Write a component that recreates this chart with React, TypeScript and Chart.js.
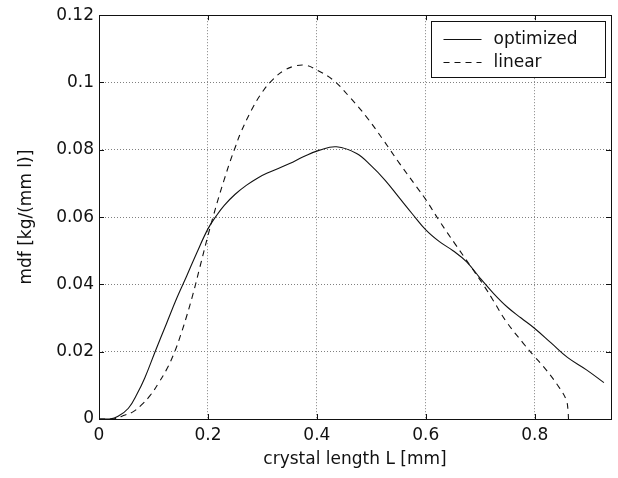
import React, { useEffect, useRef } from "react";
import { Chart, registerables } from "chart.js";

Chart.register(...registerables);

const optX = [0, 0.02, 0.035, 0.054, 0.07, 0.084, 0.103, 0.124, 0.1425, 0.161, 0.179, 0.2, 0.215, 0.23, 0.25, 0.271, 0.29, 0.308, 0.35, 0.375, 0.405, 0.436, 0.473, 0.5, 0.525, 0.55, 0.575, 0.6, 0.625, 0.65, 0.675, 0.7, 0.725, 0.75, 0.775, 0.8, 0.83, 0.86, 0.895, 0.927];
const optY = [0, 0, 0.0008, 0.0032, 0.0075, 0.0122, 0.02, 0.0284, 0.0358, 0.0425, 0.0492, 0.0565, 0.0603, 0.0635, 0.0668, 0.0695, 0.0715, 0.073, 0.0759, 0.0779, 0.0799, 0.0809, 0.0789, 0.0752, 0.071, 0.066, 0.061, 0.0562, 0.0527, 0.05, 0.0467, 0.0418, 0.0372, 0.0332, 0.03, 0.0269, 0.0226, 0.0183, 0.0146, 0.0108];

const linX = [0, 0.025, 0.048, 0.063, 0.078, 0.094, 0.109, 0.125, 0.139, 0.15, 0.161, 0.173, 0.185, 0.2, 0.21, 0.22, 0.23, 0.24, 0.25, 0.26, 0.28, 0.3, 0.32, 0.34, 0.36, 0.38, 0.4, 0.43, 0.46, 0.491, 0.522, 0.552, 0.583, 0.6, 0.626, 0.653, 0.681, 0.708, 0.7235, 0.748, 0.779, 0.8, 0.821, 0.846, 0.858, 0.861, 0.862];
const linY = [0, 0, 0.0012, 0.0022, 0.0042, 0.007, 0.0106, 0.015, 0.02, 0.025, 0.0306, 0.0374, 0.045, 0.0545, 0.0604, 0.066, 0.0712, 0.0762, 0.0807, 0.085, 0.0918, 0.0972, 0.101, 0.1036, 0.1049, 0.1051, 0.1037, 0.1007, 0.0957, 0.0898, 0.0829, 0.0759, 0.069, 0.0652, 0.0586, 0.0522, 0.0457, 0.0393, 0.0353, 0.0289, 0.0225, 0.0185, 0.0146, 0.0091, 0.0056, 0.0027, 0];

const seriesNames = ["optimized", "linear"];
const xTitle = "crystal length L [mm]";
const yTitle = "mdf [kg/(mm l)]";

const FONT = "'DejaVu Sans', Verdana, sans-serif";
const FSIZE = 17;

const toPts = (xs: number[], ys: number[]) => xs.map((x, i) => ({ x, y: ys[i] }));

const fmt = (v: number | string) => String(+Number(v).toFixed(4));

const boxPlugin = {
  id: "matlabBox",
  afterDraw(chart: any) {
    const { ctx, chartArea, scales } = chart;
    const { left, right, top, bottom } = chartArea;
    ctx.save();
    ctx.strokeStyle = "#111";
    ctx.lineWidth = 1;
    ctx.setLineDash([]);
    const tl = 5;
    ctx.beginPath();
    scales.x.ticks.forEach((t: any) => {
      const px = Math.round(scales.x.getPixelForValue(t.value)) + 0.5;
      ctx.moveTo(px, bottom);
      ctx.lineTo(px, bottom - tl);
      ctx.moveTo(px, top);
      ctx.lineTo(px, top + tl);
    });
    scales.y.ticks.forEach((t: any) => {
      const py = Math.round(scales.y.getPixelForValue(t.value)) + 0.5;
      ctx.moveTo(left, py);
      ctx.lineTo(left + tl, py);
      ctx.moveTo(right, py);
      ctx.lineTo(right - tl, py);
    });
    ctx.stroke();
    ctx.strokeRect(Math.round(left) + 0.5, Math.round(top) + 0.5, Math.round(right - left), Math.round(bottom - top));

    // legend
    const lx = Math.round(right) - 179.5;
    const ly = Math.round(top) + 6.5;
    const lw = 174;
    const lh = 56;
    ctx.fillStyle = "#fff";
    ctx.fillRect(lx, ly, lw, lh);
    ctx.strokeRect(lx, ly, lw, lh);
    const rows = [ly + 18, ly + 41];
    const dashes = [[], [6, 5]];
    ctx.font = `${FSIZE}px ${FONT}`;
    ctx.textBaseline = "middle";
    ctx.textAlign = "left";
    ctx.lineWidth = 1.1;
    rows.forEach((ry, i) => {
      ctx.beginPath();
      ctx.setLineDash(dashes[i]);
      ctx.moveTo(lx + 12, ry);
      ctx.lineTo(lx + 50, ry);
      ctx.stroke();
      ctx.setLineDash([]);
      ctx.fillStyle = "#111";
      ctx.fillText(seriesNames[i], lx + 62, ry);
    });
    ctx.restore();
  },
};

export default function App() {
  const ref = useRef<HTMLCanvasElement | null>(null);
  useEffect(() => {
    if (!ref.current) return;
    const chart = new Chart(ref.current, {
      type: "line",
      data: {
        datasets: [
          {
            label: seriesNames[0],
            data: toPts(optX, optY),
            borderColor: "#111",
            borderWidth: 1.1,
            pointRadius: 0,
            fill: false,
            tension: 0.4,
          },
          {
            label: seriesNames[1],
            data: toPts(linX, linY),
            borderColor: "#111",
            borderWidth: 1.1,
            borderDash: [6, 5],
            pointRadius: 0,
            fill: false,
            tension: 0.4,
          },
        ],
      },
      options: {
        animation: false,
        responsive: false,
        devicePixelRatio: 1,
        layout: { padding: { left: 0, right: 7, top: 15, bottom: 0 } },
        plugins: { legend: { display: false }, tooltip: { enabled: false } },
        scales: {
          x: {
            type: "linear",
            min: 0,
            max: 0.94,
            border: { display: false, dash: [1, 2] },
            grid: { color: "#808080", lineWidth: 1, drawTicks: false },
            ticks: {
              stepSize: 0.2,
              includeBounds: false,
              padding: 6,
              color: "#111",
              font: { family: FONT, size: FSIZE },
              callback: (v: any) => fmt(v),
              maxRotation: 0,
            },
            title: {
              display: true,
              text: xTitle,
              color: "#111",
              font: { family: FONT, size: FSIZE },
              padding: { top: 0, bottom: 8 },
            },
            afterFit: (s: any) => {
              s.height = 59;
            },
          },
          y: {
            type: "linear",
            min: 0,
            max: 0.12,
            border: { display: false, dash: [1, 2] },
            grid: { color: "#808080", lineWidth: 1, drawTicks: false },
            ticks: {
              stepSize: 0.02,
              padding: 5,
              color: "#111",
              font: { family: FONT, size: FSIZE },
              callback: (v: any) => fmt(v),
            },
            title: {
              display: true,
              text: yTitle,
              color: "#111",
              font: { family: FONT, size: FSIZE },
              padding: { top: 16, bottom: 0 },
            },
            afterFit: (s: any) => {
              s.width = 99;
            },
          },
        },
      },
      plugins: [boxPlugin],
    } as any);
    return () => chart.destroy();
  }, []);
  return (
    <div style={{ position: "fixed", left: 0, top: 0, width: 618, height: 478, background: "#fff" }}>
      <canvas ref={ref} width={618} height={478} style={{ width: 618, height: 478 }} />
    </div>
  );
}
